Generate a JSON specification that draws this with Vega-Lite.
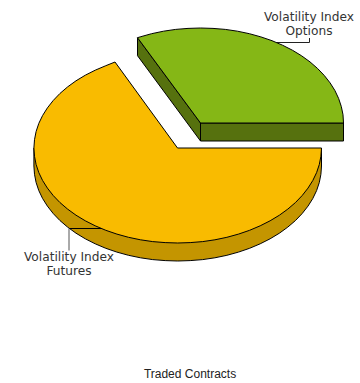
{"$schema":"https://vega.github.io/schema/vega-lite/v6.json","width":360,"height":383,"padding":0,"autosize":{"type":"none"},"background":"white","config":{"view":{"stroke":null}},
"datasets":{
"futuresSide":[{"i":0,"x":321.5,"y":148},{"i":1,"x":321.5,"y":166},{"i":2,"x":320.9,"y":174.3},{"i":3,"x":319.3,"y":182.5},{"i":4,"x":316.6,"y":190.6},{"i":5,"x":312.8,"y":198.5},{"i":6,"x":308,"y":206.1},{"i":7,"x":302.2,"y":213.5},{"i":8,"x":295.5,"y":220.5},{"i":9,"x":287.8,"y":227.1},{"i":10,"x":279.4,"y":233.2},{"i":11,"x":270.1,"y":238.8},{"i":12,"x":260.2,"y":243.8},{"i":13,"x":249.6,"y":248.3},{"i":14,"x":238.5,"y":252.1},{"i":15,"x":226.9,"y":255.3},{"i":16,"x":214.9,"y":257.8},{"i":17,"x":202.7,"y":259.6},{"i":18,"x":190.2,"y":260.6},{"i":19,"x":177.7,"y":261},{"i":20,"x":165.2,"y":260.6},{"i":21,"x":152.7,"y":259.6},{"i":22,"x":140.5,"y":257.8},{"i":23,"x":128.5,"y":255.3},{"i":24,"x":116.9,"y":252.1},{"i":25,"x":105.8,"y":248.3},{"i":26,"x":95.2,"y":243.8},{"i":27,"x":85.3,"y":238.8},{"i":28,"x":76,"y":233.2},{"i":29,"x":67.6,"y":227.1},{"i":30,"x":59.9,"y":220.5},{"i":31,"x":53.2,"y":213.5},{"i":32,"x":47.4,"y":206.1},{"i":33,"x":42.6,"y":198.5},{"i":34,"x":38.8,"y":190.6},{"i":35,"x":36.1,"y":182.5},{"i":36,"x":34.5,"y":174.3},{"i":37,"x":33.9,"y":166},{"i":38,"x":33.9,"y":148}],
"futuresTop":[{"i":0,"x":177.5,"y":148},{"i":1,"x":115,"y":62},{"i":2,"x":105.8,"y":65.7},{"i":3,"x":95.2,"y":70.2},{"i":4,"x":85.3,"y":75.2},{"i":5,"x":76,"y":80.8},{"i":6,"x":67.6,"y":86.9},{"i":7,"x":59.9,"y":93.5},{"i":8,"x":53.2,"y":100.5},{"i":9,"x":47.4,"y":107.9},{"i":10,"x":42.6,"y":115.5},{"i":11,"x":38.8,"y":123.4},{"i":12,"x":36.1,"y":131.5},{"i":13,"x":34.5,"y":139.7},{"i":14,"x":33.9,"y":148},{"i":15,"x":34.5,"y":156.3},{"i":16,"x":36.1,"y":164.5},{"i":17,"x":38.8,"y":172.6},{"i":18,"x":42.6,"y":180.5},{"i":19,"x":47.4,"y":188.1},{"i":20,"x":53.2,"y":195.5},{"i":21,"x":59.9,"y":202.5},{"i":22,"x":67.6,"y":209.1},{"i":23,"x":76,"y":215.2},{"i":24,"x":85.3,"y":220.8},{"i":25,"x":95.2,"y":225.8},{"i":26,"x":105.8,"y":230.3},{"i":27,"x":116.9,"y":234.1},{"i":28,"x":128.5,"y":237.3},{"i":29,"x":140.5,"y":239.8},{"i":30,"x":152.7,"y":241.6},{"i":31,"x":165.2,"y":242.6},{"i":32,"x":177.7,"y":243},{"i":33,"x":190.2,"y":242.6},{"i":34,"x":202.7,"y":241.6},{"i":35,"x":214.9,"y":239.8},{"i":36,"x":226.9,"y":237.3},{"i":37,"x":238.5,"y":234.1},{"i":38,"x":249.6,"y":230.3},{"i":39,"x":260.2,"y":225.8},{"i":40,"x":270.1,"y":220.8},{"i":41,"x":279.4,"y":215.2},{"i":42,"x":287.8,"y":209.1},{"i":43,"x":295.5,"y":202.5},{"i":44,"x":302.2,"y":195.5},{"i":45,"x":308,"y":188.1},{"i":46,"x":312.8,"y":180.5},{"i":47,"x":316.6,"y":172.6},{"i":48,"x":319.3,"y":164.5},{"i":49,"x":320.9,"y":156.3},{"i":50,"x":321.5,"y":148},{"i":51,"x":177.5,"y":148}],
"optionsSide":[{"i":0,"x":137.5,"y":37.7},{"i":1,"x":137.5,"y":55.7},{"i":2,"x":200.5,"y":141},{"i":3,"x":343.5,"y":141},{"i":4,"x":343.5,"y":123},{"i":5,"x":200.5,"y":123},{"i":6,"x":137.5,"y":37.7}],
"optionsEdge":[{"i":0,"x":200.5,"y":123},{"i":1,"x":200.5,"y":141}],
"optionsTop":[{"i":0,"x":200.5,"y":123},{"i":1,"x":137.5,"y":37.7},{"i":2,"x":140.1,"y":36.9},{"i":3,"x":151.6,"y":33.7},{"i":4,"x":163.5,"y":31.2},{"i":5,"x":175.7,"y":29.4},{"i":6,"x":188,"y":28.4},{"i":7,"x":200.5,"y":28},{"i":8,"x":213,"y":28.4},{"i":9,"x":225.3,"y":29.4},{"i":10,"x":237.5,"y":31.2},{"i":11,"x":249.4,"y":33.7},{"i":12,"x":260.9,"y":36.9},{"i":13,"x":272,"y":40.7},{"i":14,"x":282.5,"y":45.2},{"i":15,"x":292.4,"y":50.2},{"i":16,"x":301.6,"y":55.8},{"i":17,"x":310,"y":61.9},{"i":18,"x":317.6,"y":68.5},{"i":19,"x":324.3,"y":75.5},{"i":20,"x":330.1,"y":82.9},{"i":21,"x":334.9,"y":90.5},{"i":22,"x":338.6,"y":98.4},{"i":23,"x":341.3,"y":106.5},{"i":24,"x":343,"y":114.7},{"i":25,"x":343.5,"y":123},{"i":26,"x":200.5,"y":123}],
"futuresHoriz":[{"i":0,"x":69,"y":228.5},{"i":1,"x":101.5,"y":228.5}],
"futuresVert":[{"i":0,"x":69,"y":228.5},{"i":1,"x":69,"y":250.5}],
"optionsLeader":[{"i":0,"x":276.5,"y":42.5},{"i":1,"x":309.5,"y":42.5},{"i":2,"x":309.5,"y":38}],
"labels":[{"text":"Volatility Index","x":309,"y":21},{"text":"Options","x":309,"y":35},{"text":"Volatility Index","x":69,"y":261},{"text":"Futures","x":69,"y":274.5}],
"title":[{"text":"Traded Contracts","x":190,"y":378}]
},
"encoding":{"x":{"field":"x","type":"quantitative","scale":{"domain":[0,360]},"axis":null},"y":{"field":"y","type":"quantitative","scale":{"domain":[383,0]},"axis":null}},
"layer":[
{"data":{"name":"futuresSide"},"mark":{"type":"line","fill":"#C49500","stroke":"#000","strokeWidth":1},"encoding":{"order":{"field":"i"}}},
{"data":{"name":"futuresTop"},"mark":{"type":"line","fill":"#F9BB00","stroke":"#000","strokeWidth":1},"encoding":{"order":{"field":"i"}}},
{"data":{"name":"futuresHoriz"},"mark":{"type":"line","stroke":"#000","strokeWidth":1},"encoding":{"order":{"field":"i"}}},
{"data":{"name":"futuresVert"},"mark":{"type":"line","stroke":"#555","strokeWidth":1},"encoding":{"order":{"field":"i"}}},
{"data":{"name":"optionsLeader"},"mark":{"type":"line","stroke":"#222","strokeWidth":1},"encoding":{"order":{"field":"i"}}},
{"data":{"name":"optionsSide"},"mark":{"type":"line","fill":"#56710E","stroke":"#000","strokeWidth":1},"encoding":{"order":{"field":"i"}}},
{"data":{"name":"optionsEdge"},"mark":{"type":"line","stroke":"#000","strokeWidth":1},"encoding":{"order":{"field":"i"}}},
{"data":{"name":"optionsTop"},"mark":{"type":"line","fill":"#85B716","stroke":"#000","strokeWidth":1},"encoding":{"order":{"field":"i"}}},
{"data":{"name":"labels"},"mark":{"type":"text","font":"DejaVu Sans","fontSize":12.2,"fill":"#333","align":"center","baseline":"alphabetic"},"encoding":{"text":{"field":"text"}}},
{"data":{"name":"title"},"mark":{"type":"text","font":"Liberation Sans","fontSize":12,"fill":"#222","align":"center","baseline":"alphabetic"},"encoding":{"text":{"field":"text"}}}
]}
